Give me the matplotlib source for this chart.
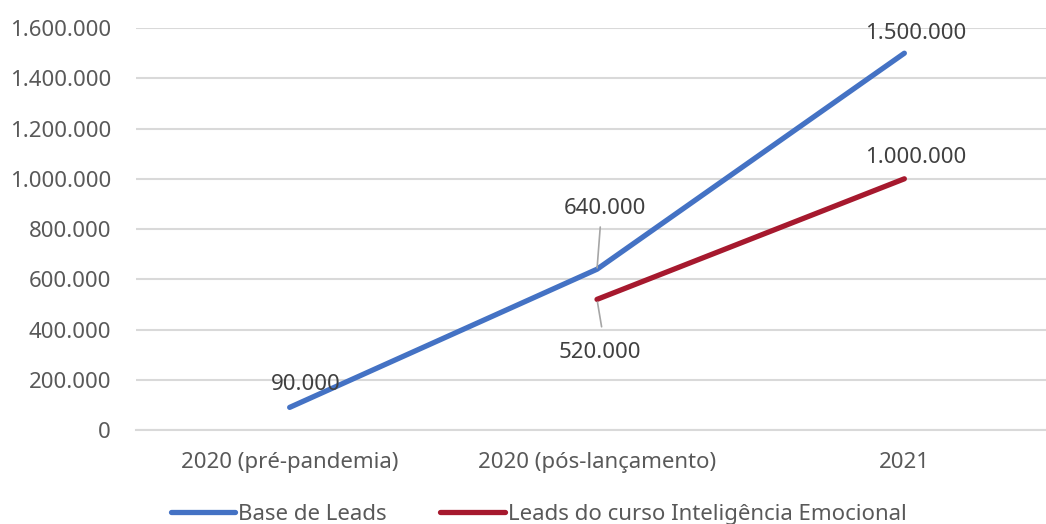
import matplotlib
matplotlib.use('Agg')
from matplotlib import pyplot as plt
from matplotlib.ticker import FuncFormatter

categorias = ['2020 (pré-pandemia)', '2020 (pós-lançamento)', '2021']
base_leads = [90000, 640000, 1500000]
leads_curso = [None, 520000, 1000000]
yticks = [0, 200000, 400000, 600000, 800000, 1000000, 1200000, 1400000, 1600000]

plt.rcParams['font.family'] = ['Noto Sans', 'DejaVu Sans']

fig = plt.figure(figsize=(10.46, 5.24), dpi=100)
ax = fig.add_axes([0.130, 0.1794, 0.8815, 0.767])

x = list(range(len(categorias)))
azul = '#4472C4'
vermelho = '#A6192E'
l1, = ax.plot(x, base_leads, color=azul, lw=3.8, solid_capstyle='round',
              label='Base de Leads')
xs = [i for i, v in zip(x, leads_curso) if v is not None]
vs = [v for v in leads_curso if v is not None]
l2, = ax.plot(xs, vs, color=vermelho, lw=3.8, solid_capstyle='round',
              label='Leads do curso Inteligência Emocional')

fmt = lambda v: f'{int(v):,}'.replace(',', '.')

# rótulos de dados
txt = dict(textcoords='offset pixels', ha='center', va='center',
           fontsize=16, color='#404040')
ax.annotate(fmt(base_leads[0]), (0, base_leads[0]), xytext=(16, 23), **txt)
ax.annotate(fmt(base_leads[1]), (1, base_leads[1]), xytext=(8, 61),
            arrowprops=dict(arrowstyle='-', color='#A6A6A6', lw=1.2,
                            shrinkA=4, shrinkB=1, relpos=(0.45, 0)), **txt)
ax.annotate(fmt(base_leads[2]), (2, base_leads[2]), xytext=(11, 20), **txt)
ax.annotate(fmt(leads_curso[1]), (1, leads_curso[1]), xytext=(3, -53),
            arrowprops=dict(arrowstyle='-', color='#A6A6A6', lw=1.2,
                            shrinkA=9, shrinkB=2, relpos=(0.55, 1)), **txt)
ax.annotate(fmt(leads_curso[2]), (2, leads_curso[2]), xytext=(11, 21), **txt)

ax.set_xlim(-0.5, 2.5)
ax.set_ylim(0, 1600000)
ax.set_yticks(yticks)
ax.yaxis.set_major_formatter(FuncFormatter(lambda v, p: fmt(v)))
ax.set_xticks(x)
ax.set_xticklabels(categorias)
ax.tick_params(axis='both', length=0, labelsize=16, labelcolor='#595959')
ax.tick_params(axis='x', pad=16)
ax.tick_params(axis='y', pad=18)
ax.grid(axis='y', color='#D9D9D9', lw=1.5)
ax.set_axisbelow(True)
for s in ['top', 'right', 'left']:
    ax.spines[s].set_visible(False)
ax.spines['bottom'].set_color('#D9D9D9')
ax.spines['bottom'].set_linewidth(1.5)

fig.legend(handles=[l1, l2], loc='center', bbox_to_anchor=(0.515, 0.018),
           ncol=2, frameon=False, fontsize=16, handlelength=2.9,
           handletextpad=0.15, columnspacing=2.4, labelcolor='#595959')

fig.savefig('out.png', dpi=100)
